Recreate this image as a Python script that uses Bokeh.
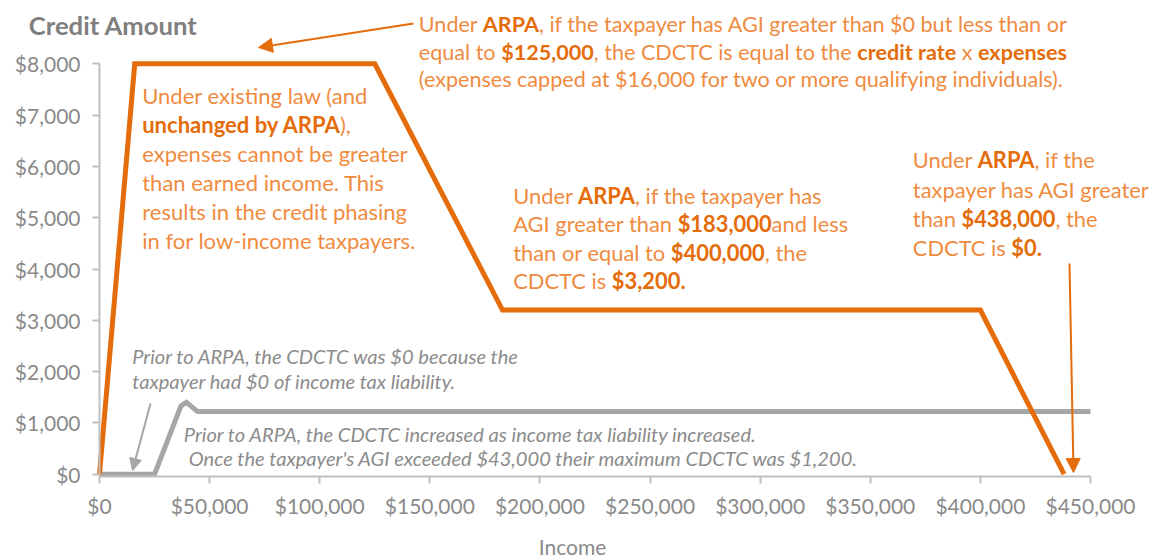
import os
import glob
import subprocess

from bokeh.plotting import figure
from bokeh.models import (Label, Arrow, NormalHead, FixedTicker,
                          NumeralTickFormatter, Range1d)
from bokeh.embed import file_html
from bokeh.resources import INLINE

# ---------------- data ----------------
arpa_income = [0, 16000, 125000, 183000, 400000, 438000]
arpa_credit = [0, 8000, 8000, 3200, 3200, 0]

prior_income = [0, 25000, 37000, 39500, 44500, 450000]
prior_credit = [0, 0, 1330, 1400, 1220, 1220]

x_ticks = [0, 50000, 100000, 150000, 200000, 250000, 300000, 350000, 400000, 450000]
y_ticks = [0, 1000, 2000, 3000, 4000, 5000, 6000, 7000, 8000]

# ---------------- styling ----------------
FONT = "Lato"
ORANGE_LINE = "#E46C0A"
ORANGE_TEXT = "#EF8B3F"
ORANGE_BOLD = "#E46C0A"
GRAY_LINE = "#A6A6A6"
GRAY_TEXT = "#8C8C8C"
AXIS_COLOR = "#BFBFBF"
TICK_TEXT = "#8A8A8A"
TITLE_COLOR = "#7F7F7F"

W, H = 1153, 559
# pixel geometry of the plotting area (page pixels)
PX_X0, PX_X1 = 99.0, 1090.0     # income 0 .. 450,000
PX_Y0, PX_Y8 = 473.7, 63.3      # credit 0 .. 8,000


def dx(px):
    return (px - PX_X0) / (PX_X1 - PX_X0) * 450000


def dy(py):
    return (PX_Y0 - py) / (PX_Y0 - PX_Y8) * 8000


# ---------------- font metrics ----------------
_cache = {}


def font_path(bold=False, italic=False):
    key = (bold, italic)
    if key in _cache:
        return _cache[key]
    path = None
    try:
        pat = "%s:weight=%s:slant=%s" % (FONT, "bold" if bold else "regular",
                                          "italic" if italic else "roman")
        out = subprocess.run(["fc-match", "-f", "%{file}", pat],
                             capture_output=True, text=True, timeout=10).stdout.strip()
        if out and os.path.exists(out) and FONT.lower() in os.path.basename(out).lower():
            path = out
    except Exception:
        path = None
    if path is None:
        name = "Lato-" + ("Bold" if bold else "") + ("Italic" if italic else "")
        if name == "Lato-":
            name = "Lato-Regular"
        for d in ["/usr/share/fonts", "/usr/local/share/fonts", os.path.expanduser("~/.fonts")]:
            hits = glob.glob(os.path.join(d, "**", name + ".ttf"), recursive=True)
            if hits:
                path = hits[0]
                break
    _cache[key] = path
    return path


def seg_width(text, size, bold=False, italic=False):
    path = font_path(bold, italic)
    if path:
        try:
            from PIL import ImageFont
            f = ImageFont.truetype(path, 200)
            return f.getlength(text) * size / 200.0
        except Exception:
            pass
    return len(text) * size * (0.56 if bold else 0.5)


def fit_size(seg_lines, target, italic=False):
    """Font size so that the summed width of the given lines equals target."""
    base = 20.0
    w = sum(seg_width(t, base, b, italic) for segs in seg_lines for t, b in segs)
    return base * target / w


# ---------------- figure ----------------
p = figure(width=W, height=H,
           x_range=Range1d(dx(0), dx(W)), y_range=Range1d(dy(H), dy(0)),
           output_backend="svg", toolbar_location=None,
           min_border_left=0, min_border_right=0, min_border_top=0, min_border_bottom=0)
p.outline_line_color = None
p.xgrid.visible = False
p.ygrid.visible = False
p.background_fill_color = "white"
p.border_fill_color = "white"

tick_size = fit_size([[("$50,000", False)]], 78)

for ax in (p.xaxis[0], p.yaxis[0]):
    ax.axis_line_color = AXIS_COLOR
    ax.axis_line_width = 2
    ax.major_tick_line_color = AXIS_COLOR
    ax.major_tick_line_width = 2
    ax.major_tick_out = 7
    ax.major_tick_in = 0
    ax.minor_tick_line_color = None
    ax.formatter = NumeralTickFormatter(format="$0,0")
    ax.major_label_text_font = FONT
    ax.major_label_text_font_size = "%.1fpx" % tick_size
    ax.major_label_text_color = TICK_TEXT

x_axis_y = dy(475.5)
p.xaxis[0].ticker = FixedTicker(ticks=x_ticks)
p.yaxis[0].ticker = FixedTicker(ticks=y_ticks)
p.xaxis[0].fixed_location = x_axis_y
p.yaxis[0].fixed_location = 0
p.xaxis[0].bounds = (0, 450000)
p.yaxis[0].bounds = (x_axis_y, 8000)
p.xaxis[0].major_label_standoff = 10
p.yaxis[0].major_label_standoff = 12

# series
p.line(prior_income, prior_credit, line_color=GRAY_LINE, line_width=5, line_join="miter")
p.line(arpa_income, arpa_credit, line_color=ORANGE_LINE, line_width=5, line_join="miter")


# ---------------- text ----------------
def add_block(lines, x_imgs, y_imgs, size, color, bold_color, italic=False):
    for i, segs in enumerate(lines):
        x = x_imgs[i] if isinstance(x_imgs, (list, tuple)) else x_imgs
        for text, b in segs:
            stripped = text.lstrip(" ")
            lead = seg_width(text[:len(text) - len(stripped)], size, b, italic)
            shown = stripped.rstrip(" ")
            if shown:
                style = ("bold " if b else "") + ("italic" if italic else "")
                style = style.strip() or "normal"
                p.add_layout(Label(x=dx(x + lead), y=dy(y_imgs[i]), text=shown,
                                   text_font=FONT, text_font_size="%.2fpx" % size,
                                   text_font_style=style,
                                   text_color=bold_color if b else color,
                                   text_align="left", text_baseline="middle"))
            x += seg_width(text, size, b, italic)


top_lines = [
    [("Under ", False), ("ARPA", True), (", if the taxpayer has AGI greater than $0 but less than or", False)],
    [("equal to ", False), ("$125,000", True), (", the CDCTC is equal to the ", False),
     ("credit rate", True), (" x ", False), ("expenses", True)],
    [("(expenses capped at $16,000 for two or more qualifying individuals).", False)],
]
s = fit_size(top_lines, 640 + 643 + 658)
add_block(top_lines, 418.3, [23.3, 51.0, 78.3], s, ORANGE_TEXT, ORANGE_BOLD)

left_lines = [
    [("Under existing law (and", False)],
    [("unchanged by ARPA", True), ("),", False)],
    [("expenses cannot be greater", False)],
    [("than earned income. This", False)],
    [("results in the credit phasing", False)],
    [("in for low-income taxpayers.", False)],
]
s = fit_size([left_lines[4]], 265)
add_block(left_lines, 141.7, [95, 124, 153, 182, 211, 240], s, ORANGE_TEXT, ORANGE_BOLD)

mid_lines = [
    [("Under ", False), ("ARPA", True), (", if the taxpayer has", False)],
    [("AGI greater than ", False), ("$183,000", True), ("and less", False)],
    [("than or equal to ", False), ("$400,000", True), (", the", False)],
    [("CDCTC is ", False), ("$3,200.", True)],
]
s = fit_size([mid_lines[1]], 335)
add_block(mid_lines, 512.7, [195, 223.3, 251.7, 280], s, ORANGE_TEXT, ORANGE_BOLD)

right_lines = [
    [("Under ", False), ("ARPA", True), (", if the", False)],
    [("taxpayer has AGI greater", False)],
    [("than ", False), ("$438,000", True), (", the", False)],
    [("CDCTC is ", False), ("$0.", True)],
]
s = fit_size([right_lines[1]], 236)
add_block(right_lines, 912.3, [159.3, 189.3, 218.3, 246.7], s, ORANGE_TEXT, ORANGE_BOLD)

gray1_lines = [
    [("Prior to ARPA, the CDCTC was $0 because the", False)],
    [("taxpayer had $0 of income tax liability.", False)],
]
gs = fit_size([gray1_lines[0]], 386, italic=True)
add_block(gray1_lines, 131.7, [355, 380], gs, GRAY_TEXT, GRAY_TEXT, italic=True)

gray2_lines = [
    [("Prior to ARPA, the CDCTC increased as income tax liability increased.", False)],
    [("Once the taxpayer's AGI exceeded $43,000 their maximum CDCTC was $1,200.", False)],
]
add_block(gray2_lines, [183.3, 188.3], [433, 457], gs, GRAY_TEXT, GRAY_TEXT, italic=True)

# axis titles
title_size = fit_size([[("Credit Amount", True)]], 168)
p.add_layout(Label(x=dx(28.3), y=dy(24), text="Credit Amount", text_font=FONT,
                   text_font_size="%.2fpx" % title_size, text_font_style="bold",
                   text_color=TITLE_COLOR, text_align="left", text_baseline="middle"))
p.add_layout(Label(x=dx(572), y=dy(546), text="Income", text_font=FONT,
                   text_font_size="%.2fpx" % tick_size, text_color=TICK_TEXT,
                   text_align="center", text_baseline="middle"))

# ---------------- arrows ----------------
p.add_layout(Arrow(x_start=dx(413), y_start=dy(23), x_end=dx(258), y_end=dy(47),
                   line_color=ORANGE_LINE, line_width=2,
                   end=NormalHead(size=14, fill_color=ORANGE_LINE, line_color=ORANGE_LINE)))
p.add_layout(Arrow(x_start=dx(150), y_start=dy(403), x_end=dx(132), y_end=dy(470),
                   line_color=GRAY_LINE, line_width=2,
                   end=NormalHead(size=12, fill_color=GRAY_LINE, line_color=GRAY_LINE)))
p.add_layout(Arrow(x_start=dx(1069), y_start=dy(263), x_end=dx(1073), y_end=dy(472),
                   line_color=ORANGE_LINE, line_width=2,
                   end=NormalHead(size=14, fill_color=ORANGE_LINE, line_color=ORANGE_LINE)))

open("out.html", "w").write(file_html(p, INLINE))
